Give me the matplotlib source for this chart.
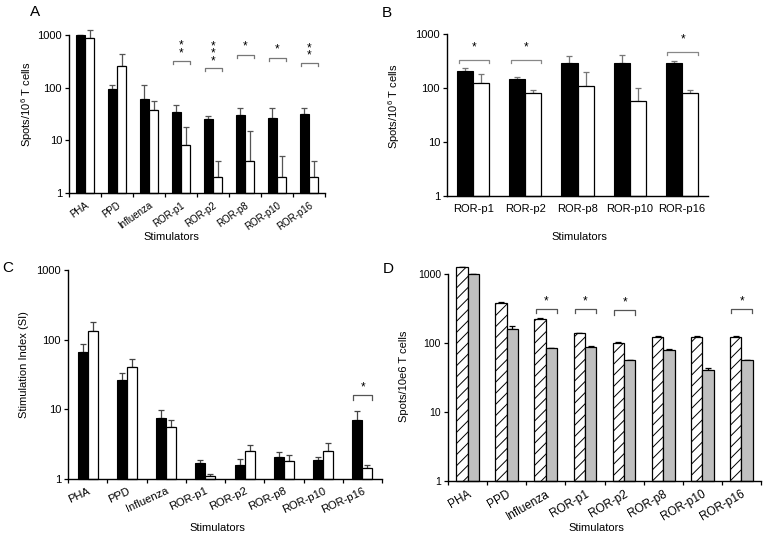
import numpy as np
import matplotlib
matplotlib.use("Agg")
import matplotlib.pyplot as plt

plt.rcParams['font.family'] = ['Liberation Sans', 'DejaVu Sans']
plt.rcParams['mathtext.fontset'] = 'custom'
plt.rcParams['mathtext.rm'] = 'Liberation Sans'
plt.rcParams['mathtext.it'] = 'Liberation Sans:italic'
plt.rcParams['hatch.linewidth'] = 0.7

# ---------------- data ----------------
cats_all = ["PHA", "PPD", "Influenza", "ROR-p1", "ROR-p2", "ROR-p8", "ROR-p10", "ROR-p16"]
cats_ror = ["ROR-p1", "ROR-p2", "ROR-p8", "ROR-p10", "ROR-p16"]

# Panel A  (Spots/10^6 T cells)
a_black = [1000, 95, 60, 35, 25, 30, 26, 31]
a_black_err = [0, 15, 50, 11, 4, 11, 15, 10]
a_white = [880, 260, 37, 8.2, 2, 4, 2, 2]
a_white_err = [350, 170, 19, 10, 2, 11, 3, 2]
a_sig = {3: ("**", 325), 4: ("***", 239), 5: ("*", 423), 6: ("*", 371), 7: ("**", 294)}

# Panel B
b_black = [210, 148, 285, 285, 285]
b_black_err = [20, 15, 100, 115, 25]
b_white = [125, 82, 110, 57, 81]
b_white_err = [55, 8, 90, 45, 9]
b_sig = {0: ("*", 334), 1: ("*", 334), 4: ("*", 470)}

# Panel C  (Stimulation Index)
c_black = [66, 26, 7.4, 1.72, 1.59, 2.1, 1.88, 7.06]
c_black_err = [22, 7, 2.3, 0.18, 0.33, 0.37, 0.22, 2.3]
c_white = [132, 40, 5.5, 1.12, 2.5, 1.8, 2.5, 1.42]
c_white_err = [48, 13, 1.5, 0.06, 0.55, 0.39, 0.76, 0.18]
c_sig = {7: ("*", 15.9)}

# Panel D  (Spots/10e6 T cells)
d_hatch = [1260, 384, 220, 138, 101, 124, 124, 124]
d_hatch_err = [0, 8, 13, 2, 1, 1, 2, 2]
d_gray = [1000, 161, 84, 87, 57, 78, 40.6, 57]
d_gray_err = [0, 15, 0, 3, 0, 4, 3.5, 0]
d_sig = {2: ("*", 311), 3: ("*", 311), 4: ("*", 300), 7: ("*", 311)}

W, H = 763, 539
fig = plt.figure(figsize=(W / 100, H / 100), dpi=100)


def add_axes_px(x0, y0, x1, y1):
    return fig.add_axes([x0 / W, 1 - y1 / H, (x1 - x0) / W, (y1 - y0) / H])


def draw_panel(ax, cats, v1, e1, v2, e2, width, style1, style2, errcolor,
               sig, brcolor, star_off, rot, xfs, xlab_xy, ylab_xy, ylabel,
               yfs=8, boundary_ticks=True):
    n = len(cats)
    x = np.arange(n)
    ax.set_yscale('log')
    ax.set_ylim(1, 1000)
    ax.set_xlim(-0.5, n - 0.5)
    ax.bar(x - width / 2, np.asarray(v1, float) - 1, width, bottom=1, **style1,
           zorder=2, clip_on=False)
    ax.bar(x + width / 2, np.asarray(v2, float) - 1, width, bottom=1, **style2,
           zorder=2, clip_on=False)
    for xs, vs, es in ((x - width / 2, v1, e1), (x + width / 2, v2, e2)):
        ax.errorbar(xs, vs, yerr=[np.zeros(n), es], fmt='none', ecolor=errcolor,
                    elinewidth=0.9, capsize=2.2, capthick=0.9, zorder=1, clip_on=False)
    for i, (stars, yb) in sig.items():
        xl = i - width * 0.9
        xr = i + width * 0.97
        yb_low = yb / 10 ** (5 / 69.0 * 0.9)
        ax.plot([xl, xl, xr, xr], [yb_low, yb, yb, yb_low], color=brcolor, lw=0.9,
                clip_on=False, zorder=3)
        ns = len(stars)
        ax.annotate('\n'.join('*' * ns), xy=(i + width * 0.05, yb),
                    xytext=(0, star_off + (ns - 1) * 4.2 / 2),
                    textcoords='offset points', ha='center', va='center',
                    fontsize=8.5, linespacing=0.5, annotation_clip=False)
    for s in ('top', 'right'):
        ax.spines[s].set_visible(False)
    ax.spines['left'].set_linewidth(1.0)
    ax.spines['bottom'].set_linewidth(1.0)
    ax.set_yticks([1, 10, 100, 1000])
    ax.set_yticklabels(['1', '10', '100', '1000'])
    ax.yaxis.set_minor_locator(matplotlib.ticker.NullLocator())
    ax.tick_params(axis='y', which='major', direction='out', length=3, width=0.9,
                   labelsize=yfs, pad=2)
    ax.set_xticks(x)
    if rot:
        ax.set_xticklabels(cats, rotation=rot, ha='right', rotation_mode='anchor')
        ax.tick_params(axis='x', which='major', length=0, labelsize=xfs, pad=5)
    else:
        ax.set_xticklabels(cats)
        ax.tick_params(axis='x', which='major', length=0, labelsize=xfs, pad=6)
    if boundary_ticks:
        ax.set_xticks(np.arange(n + 1) - 0.5, minor=True)
        ax.tick_params(axis='x', which='minor', direction='out', length=3, width=0.9)
    ax.set_xlabel('Stimulators', fontsize=8)
    ax.xaxis.set_label_coords(*xlab_xy)
    ax.xaxis.label.set_va('center')
    ax.set_ylabel(ylabel, fontsize=8)
    ax.yaxis.set_label_coords(*ylab_xy)
    ax.yaxis.label.set_va('center')


black_style = dict(color='black', edgecolor='black', linewidth=0.8)
white_style = dict(color='white', edgecolor='black', linewidth=0.9)
hatch_style = dict(color='white', edgecolor='black', linewidth=0.9, hatch='///')
gray_style = dict(color='#bfbfbf', edgecolor='black', linewidth=0.9)

# Panel A
axA = add_axes_px(69, 35, 325, 193)
draw_panel(axA, cats_all, a_black, a_black_err, a_white, a_white_err, 0.29,
           black_style, white_style, '#555555', a_sig, '#777777', 6.0, 35, 7,
           ((171 - 69) / 256, (193 - 237) / 158), ((27 - 69) / 256, (193 - 104.5) / 158),
           'Spots/10$^6$ T cells')

# Panel B
axB = add_axes_px(447, 34, 708, 196)
draw_panel(axB, cats_ror, b_black, b_black_err, b_white, b_white_err, 0.31,
           black_style, white_style, '#777777', b_sig, '#888888', 8.5, 0, 8,
           ((579 - 447) / 261, (196 - 237) / 162), ((394 - 447) / 261, (196 - 106) / 162),
           'Spots/10$^6$ T cells', boundary_ticks=False)

# Panel C
axC = add_axes_px(68, 270, 382, 479)
draw_panel(axC, cats_all, c_black, c_black_err, c_white, c_white_err, 0.256,
           black_style, white_style, '#444444', c_sig, '#555555', 6.0, 25, 8,
           ((217 - 68) / 314, (479 - 528) / 209), ((24 - 68) / 314, (479 - 365) / 209),
           'Stimulation Index (SI)')

# Panel D
axD = add_axes_px(448, 274, 761, 481)
draw_panel(axD, cats_all, d_hatch, d_hatch_err, d_gray, d_gray_err, 0.29,
           hatch_style, gray_style, 'black', d_sig, '#555555', 5.5, 30, 8.5,
           ((596 - 448) / 313, (481 - 528) / 207), ((404 - 448) / 313, (481 - 376) / 207),
           'Spots/10e6 T cells', yfs=7.5)

for lab, (px, py) in {'A': (35, 12), 'B': (387, 13), 'C': (8, 268), 'D': (388, 269)}.items():
    fig.text(px / W, 1 - py / H, lab, fontsize=11, ha='center', va='center')

fig.savefig('out.png', dpi=100)
